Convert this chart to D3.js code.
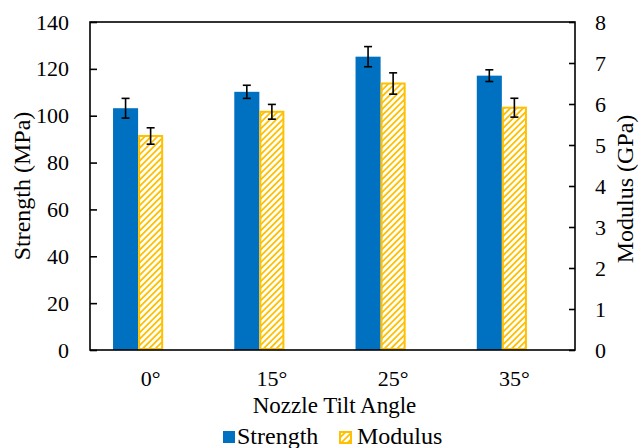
<!DOCTYPE html>
<html>
<head>
<meta charset="utf-8">
<script src="https://cdn.jsdelivr.net/npm/d3@7"></script>
</head>
<body style="margin:0;padding:0;background:#fff;">
<svg id="chart" width="639" height="448" style="display:block;" font-family="Liberation Serif"></svg>
<script>
// Tilt angles and measured properties
const categories = ["0°", "15°", "25°", "35°"];
const strength = [103.2, 110.2, 125.2, 117.1];      // MPa
const strengthErr = [4.2, 2.8, 4.3, 2.5];
const modulus = [5.22, 5.81, 6.50, 5.91];           // GPa
const modulusErr = [0.20, 0.18, 0.26, 0.23];
const leftTicks = [0, 20, 40, 60, 80, 100, 120, 140];
const rightTicks = [0, 1, 2, 3, 4, 5, 6, 7, 8];
const seriesNames = ["Strength", "Modulus"];

const blue = "#0070C0";
const gold = "#FFC000";
const serif = "'Liberation Serif'";

const svg = d3.select("#chart");
const m = { left: 90, right: 575, top: 22, bottom: 350 };

const x = d3.scaleBand().domain(categories).range([m.left, m.right])
  .paddingInner(0.38).paddingOuter(0.19);
// Each cluster holds three slots; the last is left empty
const slot = d3.scaleBand().domain(["Strength", "Modulus", "spare"]).range([0, x.bandwidth()]);
const yL = d3.scaleLinear().domain([0, 140]).range([m.bottom, m.top]);
const yR = d3.scaleLinear().domain([0, 8]).range([m.bottom, m.top]);

// Diagonal hatch for the modulus bars
const defs = svg.append("defs");
const pat = defs.append("pattern").attr("id", "hatch")
  .attr("patternUnits", "userSpaceOnUse").attr("width", 4.5).attr("height", 4.5)
  .attr("patternTransform", "rotate(45)");
pat.append("rect").attr("width", 4.5).attr("height", 4.5).attr("fill", "#fff");
pat.append("rect").attr("x", 0).attr("width", 1.8).attr("height", 4.5).attr("fill", gold);

// Strength bars
svg.append("g").selectAll("rect").data(strength).join("rect")
  .attr("x", (d, i) => x(categories[i]) + slot("Strength"))
  .attr("width", slot.bandwidth())
  .attr("y", d => yL(d))
  .attr("height", d => yL(0) - yL(d))
  .attr("fill", blue);

// Modulus bars
svg.append("g").selectAll("rect").data(modulus).join("rect")
  .attr("x", (d, i) => x(categories[i]) + slot("Modulus") + 1)
  .attr("width", slot.bandwidth() - 2)
  .attr("y", d => yR(d))
  .attr("height", d => yR(0) - yR(d) - 1)
  .attr("fill", "url(#hatch)")
  .attr("stroke", gold).attr("stroke-width", 2);

// Error bars
function errorBars(vals, errs, scale, key) {
  const g = svg.append("g").attr("stroke", "#000").attr("stroke-width", 1.6).attr("fill", "none");
  vals.forEach((v, i) => {
    const cx = x(categories[i]) + slot(key) + slot.bandwidth() / 2;
    const y1 = scale(v + errs[i]), y0 = scale(v - errs[i]);
    g.append("line").attr("x1", cx).attr("x2", cx).attr("y1", y1).attr("y2", y0);
    g.append("line").attr("x1", cx - 4).attr("x2", cx + 4).attr("y1", y1).attr("y2", y1);
    g.append("line").attr("x1", cx - 4).attr("x2", cx + 4).attr("y1", y0).attr("y2", y0);
  });
}
errorBars(strength, strengthErr, yL, "Strength");
errorBars(modulus, modulusErr, yR, "Modulus");

// Frame
svg.append("rect").attr("x", m.left).attr("y", m.top)
  .attr("width", m.right - m.left).attr("height", m.bottom - m.top)
  .attr("fill", "none").attr("stroke", "#000").attr("stroke-width", 1.6);

const fs = 22;

function styleAxis(g) {
  g.attr("font-family", null).attr("font-size", null);
  g.select(".domain").remove();
  g.selectAll("line").attr("stroke", "#000").attr("stroke-width", 1.6);
  g.selectAll("text").attr("fill", "#000")
    .style("font-family", serif).style("font-size", fs + "px");
}

// Left axis (ticks point inward)
svg.append("g").attr("transform", `translate(${m.left},0)`)
  .call(d3.axisLeft(yL).tickValues(leftTicks).tickSize(-7).tickPadding(21))
  .call(styleAxis);

// Right axis
svg.append("g").attr("transform", `translate(${m.right},0)`)
  .call(d3.axisRight(yR).tickValues(rightTicks).tickSize(-6).tickPadding(20))
  .call(styleAxis);

// Category axis
svg.append("g").attr("transform", `translate(0,${m.bottom})`)
  .call(d3.axisBottom(x).tickSize(0).tickPadding(20))
  .call(styleAxis);

// Axis titles
svg.append("text").attr("x", (m.left + m.right) / 2 + 2).attr("y", 413)
  .attr("text-anchor", "middle").style("font-size", "23px").style("font-family", serif)
  .text("Nozzle Tilt Angle");
svg.append("text").attr("transform", "translate(30,186) rotate(-90)")
  .attr("text-anchor", "middle").style("font-size", "24px").style("font-family", serif)
  .text("Strength (MPa)");
svg.append("text").attr("transform", "translate(633,189) rotate(-90)")
  .attr("text-anchor", "middle").style("font-size", "24px").style("font-family", serif)
  .text("Modulus (GPa)");

// Legend
const legend = svg.append("g");
const lx = [223, 339];
seriesNames.forEach((name, i) => {
  if (i === 0) {
    legend.append("rect").attr("x", lx[i]).attr("y", 431).attr("width", 12).attr("height", 12).attr("fill", blue);
  } else {
    legend.append("rect").attr("x", lx[i] + 1).attr("y", 432).attr("width", 11).attr("height", 11)
      .attr("fill", "url(#hatch)").attr("stroke", gold).attr("stroke-width", 2);
  }
  legend.append("text").attr("x", lx[i] + (i === 0 ? 14 : 18)).attr("y", 444)
    .style("font-size", "24px").style("font-family", serif).text(name);
});
</script>
</body>
</html>
